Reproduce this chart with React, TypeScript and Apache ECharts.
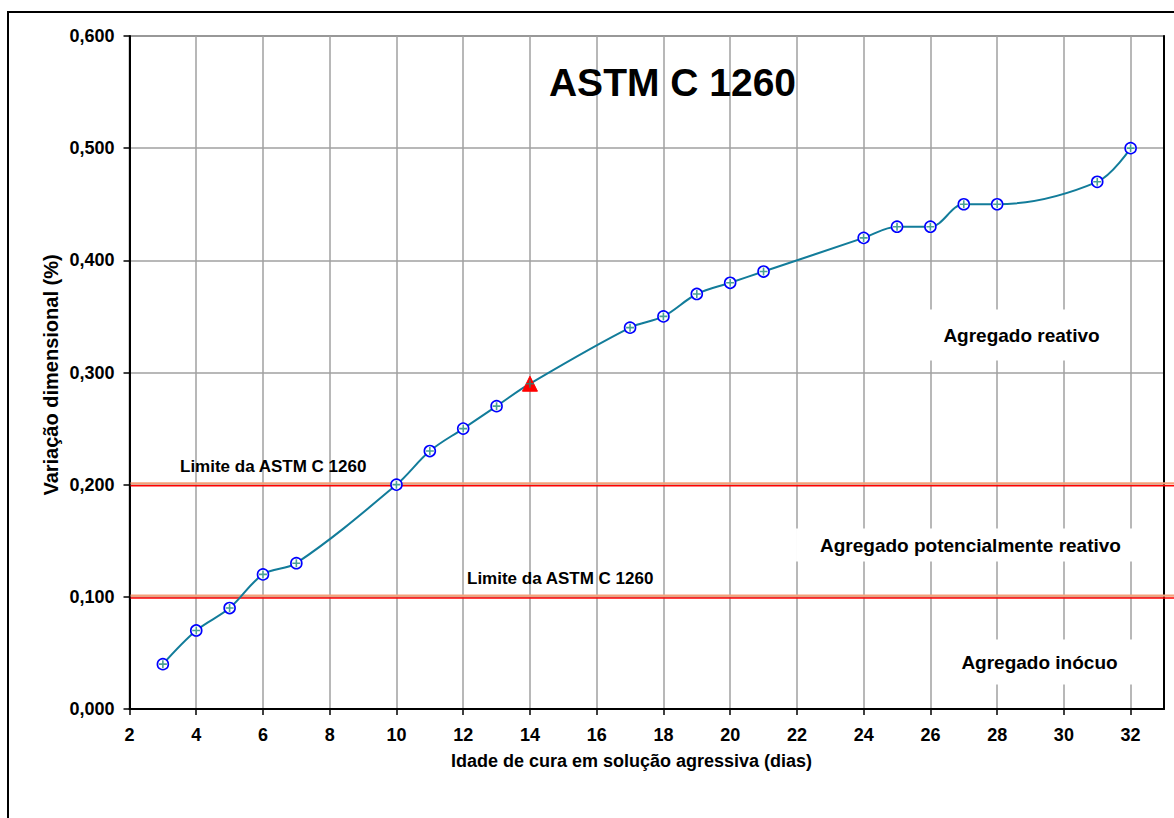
import React, { useEffect, useRef } from "react";
import * as echarts from "echarts";

const days = [3, 4, 5, 6, 7, 10, 11, 12, 13, 14, 17, 18, 19, 20, 21, 24, 25, 26, 27, 28, 31, 32];
const expansion = [0.04, 0.07, 0.09, 0.12, 0.13, 0.2, 0.23, 0.25, 0.27, 0.29, 0.34, 0.35, 0.37, 0.38, 0.39, 0.42, 0.43, 0.43, 0.45, 0.45, 0.47, 0.5];
const triangleDay = 14;
const xTicks = [2, 4, 6, 8, 10, 12, 14, 16, 18, 20, 22, 24, 26, 28, 30, 32];
const limitValues = [0.2, 0.1];
const limitLabel = "Limite da ASTM C 1260";
const zoneLabels = ["Agregado reativo", "Agregado potencialmente reativo", "Agregado inócuo"];
const chartTitle = "ASTM C 1260";
const xName = "Idade de cura em solução agressiva (dias)";
const yName = "Variação dimensional (%)";

const FONT = "'Liberation Sans', Arial, sans-serif";
const CROSS = "path://M4,0H6V4H10V6H6V10H4V6H0V4H4Z";

export default function App() {
  const ref = useRef<HTMLDivElement>(null);
  useEffect(() => {
    document.body.style.margin = "0";
    const chart = echarts.init(ref.current!, null, { renderer: "svg" });
    const gridLeft = 129.5;
    chart.setOption({
      animation: false,
      backgroundColor: "#fff",
      grid: { left: gridLeft, right: 10, top: 36, bottom: 109, show: true, borderColor: "#555", borderWidth: 1.5, containLabel: false },
      xAxis: {
        type: "value",
        min: 2,
        max: 33,
        interval: 1,
        axisLine: { show: true, onZero: false, lineStyle: { color: "#000", width: 2 } },
        axisTick: { show: true, customValues: xTicks, length: 6, lineStyle: { color: "#000", width: 1.5 } },
        axisLabel: { customValues: xTicks, fontSize: 18, fontWeight: "bold", color: "#000", margin: 17, fontFamily: FONT },
        splitLine: { show: true, lineStyle: { color: "#A0A0A0", width: 1.5 } },
      },
      yAxis: [
        {
          type: "value",
          min: 0,
          max: 0.6,
          interval: 0.1,
          axisLine: { show: true, onZero: false, lineStyle: { color: "#000", width: 2 } },
          axisTick: { show: true, length: 6, lineStyle: { color: "#000", width: 1.5 } },
          axisLabel: {
            fontSize: 18,
            fontWeight: "bold",
            color: "#000",
            margin: 15,
            fontFamily: FONT,
            formatter: (v: number) => v.toFixed(3).replace(".", ","),
          },
          splitLine: { show: true, lineStyle: { color: "#A0A0A0", width: 1.5 } },
        },
        {
          type: "value",
          position: "right",
          min: 0,
          max: 0.6,
          interval: 0.1,
          axisLine: { show: true, onZero: false, lineStyle: { color: "#000", width: 2 } },
          axisTick: { show: false },
          axisLabel: { show: false },
          splitLine: { show: false },
        },
      ],
      series: [
        {
          type: "line",
          xAxisIndex: 0,
          yAxisIndex: 0,
          data: days.map((d, i) =>
            d === triangleDay
              ? { value: [d, expansion[i]], symbol: "triangle", symbolSize: 15, itemStyle: { color: "#FF0000", borderColor: "#FF0000", borderWidth: 1 } }
              : [d, expansion[i]]
          ),
          smooth: 0.35,
          symbol: "circle",
          symbolSize: 11,
          showAllSymbol: true,
          lineStyle: { color: "#127C9A", width: 2 },
          itemStyle: { color: "#fff", borderColor: "#0000FF", borderWidth: 1.6 },
          z: 3,
        },
        {
          type: "scatter",
          xAxisIndex: 0,
          yAxisIndex: 0,
          data: days.map((d, i) => [d, expansion[i]]),
          symbol: CROSS,
          symbolSize: 8,
          itemStyle: { color: "#1E8A7A" },
          silent: true,
          z: 4,
        },
      ],
    });

    const ys = limitValues.map((v) => chart.convertToPixel({ yAxisIndex: 0 }, v) as number);
    const x0 = chart.convertToPixel({ xAxisIndex: 0 }, 2) as number;
    const limitLabelX = [180, 467];
    const graphics: any[] = [
      { type: "rect", shape: { x: 8, y: 12, width: 1300, height: 900 }, style: { fill: "none", stroke: "#000", lineWidth: 2 }, z: 10, silent: true },
      { type: "text", x: 672.5, y: 82, style: { text: chartTitle, font: `bold 39px ${FONT}`, fill: "#000", align: "center", verticalAlign: "middle" }, z: 5 },
      { type: "text", x: 631.5, y: 761, style: { text: xName, font: `bold 18px ${FONT}`, fill: "#000", align: "center", verticalAlign: "middle" }, z: 5 },
      { type: "text", x: 51, y: 375, rotation: Math.PI / 2, style: { text: yName, font: `bold 20px ${FONT}`, fill: "#000", align: "center", verticalAlign: "middle" }, z: 5 },
      { type: "text", x: 1021.5, y: 335, style: { text: zoneLabels[0], font: `bold 19px ${FONT}`, fill: "#000", align: "center", verticalAlign: "middle", backgroundColor: "#fff", padding: [16, 18] }, z: 5 },
      { type: "text", x: 970.5, y: 545, style: { text: zoneLabels[1], font: `bold 19px ${FONT}`, fill: "#000", align: "center", verticalAlign: "middle", backgroundColor: "#fff", padding: [7, 24] }, z: 5 },
      { type: "text", x: 1039.5, y: 662, style: { text: zoneLabels[2], font: `bold 19px ${FONT}`, fill: "#000", align: "center", verticalAlign: "middle", backgroundColor: "#fff", padding: [13, 20] }, z: 5 },
    ];
    ys.forEach((y, i) => {
      graphics.push({ type: "line", shape: { x1: x0 + 1, y1: y - 1.2, x2: 1174, y2: y - 1.2 }, style: { stroke: "#F6A07A", lineWidth: 2.2 }, z: 1, silent: true });
      graphics.push({ type: "line", shape: { x1: x0 + 1, y1: y + 1.2, x2: 1174, y2: y + 1.2 }, style: { stroke: "#FF0000", lineWidth: 1.5 }, z: 1, silent: true });
      graphics.push({ type: "text", x: limitLabelX[i], y: y - 18.5, style: { text: limitLabel, font: `bold 17px ${FONT}`, fill: "#000", align: "left", verticalAlign: "middle" }, z: 5 });
    });
    chart.setOption({ graphic: graphics });
    return () => chart.dispose();
  }, []);
  return <div ref={ref} style={{ width: 1174, height: 818 }} />;
}
